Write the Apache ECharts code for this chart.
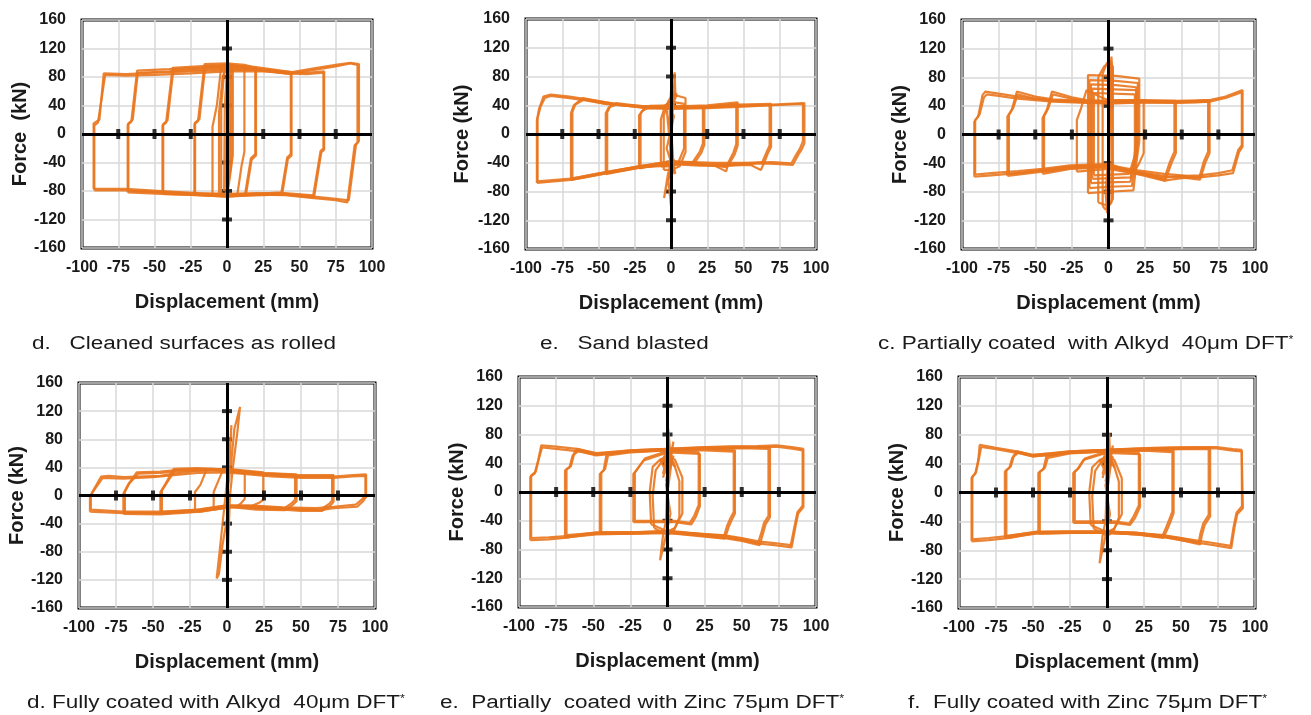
<!DOCTYPE html>
<html lang="en">
<head>
<meta charset="UTF-8">
<script src="https://cdn.jsdelivr.net/npm/echarts@6/dist/echarts.min.js"></script>
<title>Hysteresis loops</title>
<style>
  html, body { margin: 0; padding: 0; background: #fff; }
  #main { width: 1311px; height: 715px; }
</style>
</head>
<body>
<div id="main"></div>
<script>
// small crosses drawn on the centre axes
var crossX = [-75, -50, -25, 25, 50, 75];
var crossY = [-120, -80, -40, 40, 80, 120];

var captions = [
    'd.   Cleaned surfaces as rolled',
    'e.   Sand blasted',
    'c. Partially coated  with Alkyd  40\u03bcm DFT{s|*}',
    'd. Fully coated with Alkyd  40\u03bcm DFT{s|*}',
    'e.  Partially  coated with Zinc 75\u03bcm DFT{s|*}',
    'f.  Fully coated with Zinc 75\u03bcm DFT{s|*}'
];
var yNames = ['Force  (kN)', 'Force (kN)', 'Force (kN)', 'Force (kN)', 'Force (kN)', 'Force (kN)'];

// displacement (mm), force (kN) -- one array per loop
var cleanedLoops = [
    [[-91.5,-79],[-91.5,12],[-89,16],[-84,83],[-70,82],[-50,83],[-25,85],[0,88],[25,88],[45,85],[60,90],[75,95],[85,99],[90,97],[90,-12],[88,-16],[83,-96],[75,-93],[60,-90],[40,-86],[20,-85],[0,-86],[-20,-85],[-45,-82],[-70,-79],[-91.5,-79]],
    [[-92,-77],[-92,15],[-88,20],[-85,85],[-70,84],[-50,86],[-25,88],[0,90],[25,90],[45,87],[60,92],[75,97],[85,100],[91,98],[91,-10],[89,-15],[84,-93],[75,-91],[60,-88],[40,-84],[20,-83],[0,-84],[-20,-83],[-45,-80],[-70,-77],[-92,-77]],
    [[-68.5,-82],[-68.5,13],[-66,17],[-62,89],[-40,91],[-20,93],[0,95],[20,92],[40,87],[55,86],[67,88],[67,-22],[65,-26],[60,-89],[40,-85],[20,-86],[0,-88],[-20,-86],[-45,-84],[-68.5,-82]],
    [[-68,-80],[-68,15],[-65,20],[-61.5,86],[-40,88],[-20,90],[0,92],[20,90],[40,85],[55,84],[66.5,86],[66.5,-20],[64.5,-24],[59.5,-86],[40,-83],[20,-84],[0,-86],[-20,-84],[-45,-82],[-68,-80]],
    [[-44.5,-84],[-44.5,12],[-42,16],[-37.5,93],[-20,95],[0,97],[20,94],[44.5,87],[44.5,-30],[42,-35],[38,-85],[20,-86],[0,-87],[-20,-86],[-44.5,-84]],
    [[-44,-82],[-44,14],[-41,19],[-37,90],[-20,92],[0,94],[20,91],[44,84],[44,-28],[41.5,-33],[37.5,-82],[20,-84],[0,-85],[-20,-84],[-44,-82]],
    [[-22.5,-85],[-22.5,14],[-20,18],[-15.5,98],[0,99],[12,97],[20,93],[20,-30],[17,-36],[13,-86],[0,-88],[-22.5,-85]],
    [[-22,-83],[-22,16],[-19,21],[-15,95],[0,96],[12,94],[19.5,90],[19.5,-28],[16.5,-34],[12.5,-84],[0,-86],[-22,-83]],
    [[-10,-85],[-10,10],[-7,40],[-4,95],[0,96],[12,95],[12,-25],[10,-45],[7,-87],[-10,-85]],
    [[-5.5,-86],[-5.5,30],[-3,80],[0,97],[4,96],[4,-30],[2,-60],[0,-88],[-5.5,-86]],
    [[-4,-84],[-4,40],[-2,85],[1,98],[3,97],[3,-40],[1,-70],[-1,-86],[-4,-84]],
    [[0,0],[-1.5,-75],[-2,-80],[-1.5,40],[0,90],[2,95],[2,-40],[0,-85]]
];

var sandLoops = [
    [[-92.5,-68],[-92.5,19],[-91,35],[-88,52],[-83,55],[-70,52],[-60,49],[-45,44],[-37,41],[-16,38],[0,37],[25,37],[50,39],[70,41],[92,43],[92,-13],[90,-22],[88,-28],[84,-43],[75,-42],[64,-41],[50,-42],[39,-44],[20,-43],[0,-40],[-22,-47],[-45,-55],[-69,-64],[-92.5,-68]],
    [[-92,-66],[-92,22],[-90,38],[-87,50],[-83,53],[-70,50],[-60,47],[-45,42],[-30,39],[-16,36],[0,35],[25,36],[50,38],[70,40],[91,42],[91,-10],[89,-20],[86,-30],[83,-41],[70,-39],[50,-40],[30,-40],[0,-38],[-22,-45],[-45,-53],[-69,-62],[-92,-66]],
    [[-69,-64],[-69,29],[-67,40],[-61,50],[-45,44],[-30,40],[-16,38],[0,37],[25,38],[46,41],[69,42],[69,-18],[67,-26],[64,-41],[62,-50],[55,-43],[38,-44],[20,-43],[0,-40],[-22,-47],[-45,-55],[-69,-64]],
    [[-68,-62],[-68,31],[-66,41],[-60,48],[-45,42],[-30,39],[-16,36],[0,36],[25,37],[46,40],[68,40],[68,-16],[66,-25],[63,-39],[55,-41],[38,-42],[20,-41],[0,-38],[-22,-45],[-45,-53],[-68,-62]],
    [[-45,-56],[-45,29],[-43,37],[-38,43],[-25,40],[-16,38],[0,38],[25,40],[46,44],[46,-16],[44,-28],[39,-45],[38,-52],[30,-44],[20,-44],[0,-42],[-22,-47],[-45,-56]],
    [[-44,-54],[-44,30],[-42,38],[-37,41],[-25,39],[0,36],[25,38],[45,42],[45,-14],[43,-26],[38,-46],[20,-42],[0,-40],[-22,-45],[-44,-54]],
    [[-22,-48],[-22,26],[-20,32],[-16,36],[0,37],[23,38],[23,-15],[21,-26],[16,-41],[0,-40],[-22,-48]],
    [[-21,-46],[-21,28],[-19,34],[-15,39],[0,40],[22,36],[22,-13],[20,-24],[15,-39],[0,-44],[-21,-46]],
    [[-7,-45],[-7,20],[-4,40],[0,45],[9,42],[9,-20],[5,-40],[0,-45],[-7,-45]],
    [[-5,-50],[-5,25],[-2,45],[1,55],[10,50],[10,-25],[6,-45],[0,-50],[-5,-50]],
    [[0,0],[1,50],[2,60],[2.5,86],[3,55],[1,30],[0,-40],[-2,-55],[-4.8,-89],[-2,-60],[0,-100],[1,-40],[-1,20],[0,60],[4,55],[1,40],[-1,-60],[2,-50],[0,10]],
    [[-2,10],[1,45],[-1,30],[3,58],[-2,40],[2,25],[-3,-20],[1,-45],[-2,-65],[2,-35],[-1,-50],[3,-55],[0,-30],[-3,35],[2,50]]
];

var partAlkydLoops = [
    [[-91.6,-59],[-91.6,18],[-89,25],[-86,55],[-84,60],[-75,57],[-62,53],[-50,50],[-38,48],[-15,46],[0,45],[24,47],[46,46],[60,47],[69,48],[80,53],[91.5,62],[91.5,-17],[89,-25],[85,-54],[75,-57],[62,-60],[50,-61],[39,-64],[25,-57],[17,-54],[0,-43],[-26,-45],[-45,-50],[-62,-54],[-80,-57],[-91.6,-59]],
    [[-91,-56],[-91,20],[-88,28],[-85,52],[-83,56],[-75,54],[-62,50],[-50,48],[-38,46],[-15,44],[0,43],[24,45],[46,44],[60,45],[69,46],[80,51],[91,59],[91,-15],[88.5,-22],[84.5,-50],[75,-54],[62,-57],[50,-58],[39,-60],[25,-55],[17,-52],[0,-41],[-26,-43],[-45,-48],[-62,-51],[-80,-54],[-91,-56]],
    [[-69,-58],[-69,25],[-66,35],[-62.5,60],[-50,53],[-38,49],[-15,47],[0,46],[24,47],[46,47],[69,48],[69,-26],[66,-40],[62.5,-63],[50,-60],[38,-58],[20,-52],[0,-45],[-26,-47],[-45,-52],[-69,-58]],
    [[-68,-55],[-68,27],[-65,37],[-62,56],[-50,50],[-38,47],[-15,45],[0,44],[24,45],[46,45],[68,46],[68,-24],[65,-38],[62,-60],[50,-57],[38,-55],[20,-50],[0,-43],[-26,-45],[-45,-50],[-68,-55]],
    [[-45,-55],[-45,23],[-42,35],[-38.6,60],[-25,52],[-15,48],[0,47],[24,48],[46,47],[46,-26],[43,-40],[38.6,-65],[25,-58],[0,-46],[-26,-48],[-45,-55]],
    [[-44,-52],[-44,25],[-41,37],[-38,56],[-25,50],[-15,46],[0,45],[24,46],[45,45],[45,-24],[42,-38],[38,-62],[25,-55],[0,-44],[-26,-46],[-44,-52]],
    [[-21.6,-52],[-21.6,20],[-19,35],[-15,62],[-5,52],[0,48],[24,48],[24,-26],[21,-40],[17,-54],[0,-48],[-21.6,-52]],
    [[-14,-82],[-14,83],[5,82],[21,78],[21,-10],[19,-40],[17,-78],[0,-80],[-14,-82]],
    [[-13,-75],[-13,76],[5,75],[20,72],[20,-10],[18,-40],[16,-72],[0,-73],[-13,-75]],
    [[-12,-68],[-12,70],[5,69],[19,66],[19,-10],[17,-40],[15,-66],[0,-67],[-12,-68]],
    [[-11,-62],[-11,64],[19,62],[19,-30],[15,-60],[-11,-62]],
    [[-10,-57],[-10,58],[18,56],[18,-30],[14,-55],[-10,-57]],
    [[-7,-95],[-7,80],[-3,95],[0,100],[3,95],[3,-90],[0,-100],[-7,-95]],
    [[-4,-100],[-4,85],[-1,100],[1,104],[2,98],[2,-95],[-2,-105],[-4,-100]],
    [[0,0],[1,60],[2,109],[3,80],[1,20],[0,-60],[-1,-110],[-2,-80],[0,-30]]
];

var fullAlkydLoops = [
    [[-92.6,-23],[-92.6,-2],[-91,5],[-85,27],[-80,28],[-70,26],[-60,27],[-45,28],[-36,31],[-20,35],[-5,36],[10,33],[30,29],[50,27],[72,27],[85,29],[94,30],[94,-2],[92,-8],[88,-16],[72,-18],[63,-21],[50,-19],[38,-19],[15,-16],[4,-16],[-18,-23],[-45,-25],[-70,-25],[-92.6,-23]],
    [[-92,-20],[-92,0],[-90,7],[-84,25],[-70,24],[-50,26],[-36,29],[-20,32],[0,33],[30,27],[50,25],[72,25],[85,27],[93.5,28],[93.5,0],[91,-6],[87,-13],[72,-16],[60,-18],[38,-17],[15,-14],[0,-14],[-18,-20],[-45,-23],[-70,-23],[-92,-20]],
    [[-70,-26],[-70,3],[-67,15],[-61,33],[-45,34],[-30,37],[-10,38],[0,36],[25,32],[47,29],[72,29],[72,-9],[70,-14],[64,-22],[50,-22],[38,-20],[15,-17],[0,-17],[-18,-23],[-45,-27],[-70,-26]],
    [[-69,-24],[-69,5],[-66,17],[-60,31],[-45,32],[-30,35],[-10,36],[0,34],[25,30],[47,27],[71,27],[71,-7],[69,-12],[63,-20],[50,-20],[38,-18],[15,-15],[0,-15],[-18,-21],[-45,-25],[-69,-24]],
    [[-45,-26],[-45,5],[-42,15],[-36,38],[-20,39],[0,37],[25,32],[47,30],[47,-8],[44,-14],[39,-21],[20,-20],[0,-16],[-20,-22],[-45,-26]],
    [[-44,-24],[-44,7],[-41,17],[-35,36],[-20,37],[0,35],[25,30],[46,28],[46,-6],[43,-12],[38,-19],[20,-18],[0,-14],[-20,-20],[-44,-24]],
    [[-21.6,-22],[-21.6,5],[-18,15],[-14,36],[0,38],[24.5,33],[24.5,-6],[22,-10],[15.5,-16],[0,-15],[-21.6,-22]],
    [[-9,-20],[-9,5],[-6,20],[-3,35],[0,36],[12,34],[12,-5],[9,-12],[6,-16],[0,-17],[-9,-20]],
    [[0,0],[3,50],[5,95],[8.8,126],[7,90],[4,40],[1,-20],[-3,-70],[-5.5,-112],[-7,-118],[-5,-80],[-2,-20],[1,40],[3,100],[2,60],[0,-10],[0,-128],[1,-60],[2,0]]
];

var partZincLoops = [
    [[-92.4,-67],[-92.4,21],[-89.4,26],[-87,45],[-85,65],[-75,63],[-61,60],[-48,53],[-38,55],[-25,58],[0,60],[20,62],[42,63.5],[60,64],[73.5,65],[85,62],[91.5,60],[91.5,-21],[88,-30],[86,-50],[83.6,-77],[72,-74],[62,-72],[50,-67],[37.5,-63],[20,-60],[1.6,-56],[-25,-58],[-48,-58],[-66,-63],[-80,-66],[-92.4,-67]],
    [[-91.8,-64],[-91.8,23],[-88.8,28],[-86.5,47],[-84.5,62],[-75,60],[-61,57],[-48,51],[-38,53],[-25,56],[0,58],[20,60],[42,61],[60,62],[73.5,63],[85,60],[91,58],[91,-19],[87.5,-28],[85.5,-48],[83,-74],[72,-71],[62,-69],[50,-64],[37.5,-60],[20,-58],[1.6,-54],[-25,-56],[-48,-56],[-66,-61],[-80,-63],[-91.8,-64]],
    [[-69,-63],[-69,30],[-66,34],[-64,50],[-61,60],[-48,54],[-25,58],[0,60],[30,62],[50,63],[69,62],[69,-35],[66,-45],[64,-60],[62,-74],[50,-68],[37.5,-64],[20,-60],[0,-57],[-25,-58],[-48,-59],[-69,-63]],
    [[-68,-60],[-68,32],[-65,36],[-63,52],[-60,57],[-48,52],[-25,56],[0,58],[30,60],[50,61],[68,60],[68,-33],[65,-43],[63,-58],[61,-71],[50,-65],[37.5,-61],[20,-58],[0,-55],[-25,-56],[-48,-57],[-68,-60]],
    [[-45.6,-58],[-45.6,25],[-43,30],[-41,53],[-25,57],[0,60],[25,60],[45.4,58],[45.4,-30],[43,-40],[41,-50],[38.6,-65],[20,-61],[0,-57],[-25,-58],[-45.6,-58]],
    [[-44.6,-56],[-44.6,27],[-42,32],[-40,51],[-25,55],[0,58],[25,58],[44.6,56],[44.6,-28],[42,-38],[40,-48],[38,-62],[20,-58],[0,-55],[-25,-56],[-44.6,-56]],
    [[-23,-42],[-23,25],[-21,30],[-16,44],[0,55],[21.8,53],[21.8,-20],[19,-35],[16,-45],[5,-42],[-23,-42]],
    [[-22,-40],[-22,27],[-20,33],[-15,47],[0,57],[21,55],[21,-18],[18,-33],[15,-43],[5,-40],[-22,-40]],
    [[-11,-45],[-12,0],[-10,35],[-5,45],[0,50],[5,45],[10,20],[10,-30],[5,-50],[0,-55],[-11,-45]],
    [[-9,-50],[-10,-5],[-8,30],[-4,42],[0,48],[4,42],[8,15],[8,-35],[4,-55],[0,-60],[-9,-50]],
    [[0,0],[1,60],[0.5,88],[2,50],[4,70],[1,30],[-2,50],[0,20],[-1,-40],[-3,-60],[-5,-95],[-2,-70],[0,-50],[2,-30],[-1,10],[3,45],[0,0]],
    [[-3,20],[2,55],[-2,30],[3,60],[-1,15],[4,50],[-4,40],[1,65],[-3,25],[2,45],[5,35],[-2,55],[0,30],[3,40],[-5,45],[1,20]]
];

var fullZincLoops = [
    [[-91.5,-67.7],[-91.5,20],[-89,26],[-87,45],[-86,66],[-75,62],[-61,57],[-50,52],[-38,54],[-25,57],[0,59],[20,61],[42.6,62.7],[60,63],[74,63],[85,60],[91,59],[91.8,-21.7],[88,-30],[86,-50],[84,-77],[72,-73],[62,-70],[50,-66],[38,-61],[20,-58],[2,-56],[-25,-56],[-47.6,-56],[-65.6,-63],[-80,-66],[-91.5,-67.7]],
    [[-91,-65],[-91,22],[-88.5,28],[-86.5,47],[-85,63],[-75,60],[-61,55],[-50,50],[-38,52],[-25,55],[0,57],[20,59],[42.6,60],[60,61],[74,61],[85,58],[91,57],[91.2,-19],[87.5,-28],[85.5,-48],[83.5,-74],[72,-70],[62,-67],[50,-63],[38,-59],[20,-56],[2,-54],[-25,-54],[-47.6,-54],[-65.6,-60],[-80,-63],[-91,-65]],
    [[-69,-63],[-69,29],[-66,34],[-64,48],[-61,57],[-50,52],[-25,57],[0,59],[30,61],[50,62],[69.7,62],[69.7,-33],[66,-45],[64,-60],[63,-72],[50,-66],[38,-62],[20,-58],[0,-56],[-25,-56],[-48,-57],[-69,-63]],
    [[-68,-60],[-68,31],[-65,36],[-63,50],[-60,55],[-50,50],[-25,55],[0,57],[30,59],[50,60],[68.7,60],[68.7,-31],[65,-43],[63,-58],[62,-69],[50,-63],[38,-60],[20,-56],[0,-54],[-25,-54],[-48,-55],[-68,-60]],
    [[-46.4,-57],[-46.4,27],[-43,32],[-41,50],[-25,56],[0,59],[25,60],[45,58],[45,-28.5],[43,-40],[41,-50],[38,-63],[20,-58],[0,-56],[-25,-56],[-46.4,-57]],
    [[-45.4,-55],[-45.4,29],[-42,34],[-40,48],[-25,54],[0,57],[25,58],[44.2,56],[44.2,-26],[42,-38],[40,-48],[37.5,-60],[20,-56],[0,-54],[-25,-54],[-45.4,-55]],
    [[-22.8,-42],[-22.8,27],[-20,32],[-16,45],[0,55],[22.3,53],[22.3,-20],[19,-35],[15.6,-45],[5,-42],[-22.8,-42]],
    [[-21.8,-40],[-21.8,29],[-19,34],[-15,47],[0,57],[21.5,55],[21.5,-18],[18,-33],[15,-43],[5,-40],[-21.8,-40]],
    [[-11,-45],[-12,0],[-10,35],[-5,45],[0,50],[5,45],[10,20],[10,-30],[5,-50],[0,-55],[-11,-45]],
    [[-9,-50],[-10,-5],[-8,30],[-4,42],[0,48],[4,42],[8,15],[8,-35],[4,-55],[0,-60],[-9,-50]],
    [[0,0],[1,60],[1.5,82],[2,50],[4,65],[1,30],[-2,50],[0,20],[-1,-40],[-3,-60],[-5,-98],[-2,-70],[0,-50],[2,-30],[-1,10],[3,45],[0,0]],
    [[-3,20],[2,55],[-2,30],[3,60],[-1,15],[4,50],[-4,40],[1,62],[-3,25],[2,45],[5,35],[-2,55],[0,30],[3,40],[-5,45],[1,20]]
];

var allLoops = [cleanedLoops, sandLoops, partAlkydLoops, fullAlkydLoops, partZincLoops, fullZincLoops];

// plot boxes (px) and caption anchors
var boxes = [
    {left: 82, top: 20, width: 290, height: 228, yGap: 48, capX: 32, capY: 344},
    {left: 526, top: 19, width: 290, height: 230, yGap: 54, capX: 540, capY: 344},
    {left: 962, top: 20, width: 293, height: 229, yGap: 50, capX: 878, capY: 344},
    {left: 79, top: 383, width: 296, height: 225, yGap: 49, capX: 27, capY: 703},
    {left: 519, top: 377, width: 297, height: 230, yGap: 48, capX: 440, capY: 703},
    {left: 959, top: 377, width: 296, height: 231, yGap: 48, capX: 908, capY: 703}
];

var ORANGE = '#E9761E';
var INK = '#1a1a1a';
var FONT = 'Liberation Sans, Arial, sans-serif';

var grid = [], xAxis = [], yAxis = [], series = [], graphic = [];

boxes.forEach(function (b, i) {
    grid.push({
        left: b.left, top: b.top, width: b.width, height: b.height,
        show: true, borderColor: '#000', borderWidth: 3, backgroundColor: '#fff',
        outerBoundsMode: 'none'
    });
    xAxis.push({
        gridIndex: i, type: 'value', min: -100, max: 100, interval: 25, position: 'bottom',
        axisLine: {show: false, onZero: false}, axisTick: {show: false},
        axisLabel: {margin: 12, fontSize: 16, fontWeight: 'bold', color: INK, fontFamily: FONT},
        splitLine: {show: true, lineStyle: {color: '#d9d9d9', width: 1.5}},
        name: 'Displacement (mm)', nameLocation: 'middle', nameGap: 44,
        nameTextStyle: {fontSize: 20, fontWeight: 'bold', color: INK, fontFamily: FONT}
    });
    yAxis.push({
        gridIndex: i, type: 'value', min: -160, max: 160, interval: 40, position: 'left',
        axisLine: {show: false, onZero: false}, axisTick: {show: false},
        axisLabel: {margin: 16, fontSize: 16, fontWeight: 'bold', color: INK, fontFamily: FONT},
        splitLine: {show: true, lineStyle: {color: '#d9d9d9', width: 1.5}},
        name: yNames[i], nameLocation: 'middle', nameGap: b.yGap, nameRotate: 90,
        nameTextStyle: {fontSize: 20, fontWeight: 'bold', color: INK, fontFamily: FONT}
    });

    // vertical centre axis sits under the curves
    series.push({
        type: 'scatter', xAxisIndex: i, yAxisIndex: i, z: 1, silent: true,
        symbol: 'rect', symbolSize: [10, 4], itemStyle: {color: '#000'},
        data: crossY.map(function (v) { return [0, v]; }),
        markLine: {
            silent: true, symbol: ['none', 'none'], label: {show: false},
            lineStyle: {color: '#000', width: 3, type: 'solid'},
            data: [{xAxis: 0}]
        }
    });
    allLoops[i].forEach(function (loop) {
        series.push({
            type: 'line', xAxisIndex: i, yAxisIndex: i, z: 2, silent: true,
            data: loop, showSymbol: false, symbol: 'none',
            lineStyle: {color: ORANGE, width: 2.2, opacity: 0.9}
        });
    });
    // horizontal centre axis drawn over the curves
    series.push({
        type: 'scatter', xAxisIndex: i, yAxisIndex: i, z: 3, silent: true,
        symbol: 'rect', symbolSize: [4, 10], itemStyle: {color: '#000'},
        data: crossX.map(function (v) { return [v, 0]; }),
        markLine: {
            silent: true, symbol: ['none', 'none'], label: {show: false},
            lineStyle: {color: '#000', width: 3, type: 'solid'},
            data: [{yAxis: 0}]
        }
    });

    graphic.push({
        type: 'text', x: b.capX, y: b.capY, scaleX: 1.25,
        style: {
            text: captions[i], fontSize: 18, fontFamily: FONT, fill: INK,
            verticalAlign: 'middle',
            rich: {s: {fontSize: 10, fill: INK, verticalAlign: 'top', fontFamily: FONT}}
        }
    });
});

var myChart = echarts.init(document.getElementById('main'));
myChart.setOption({
    animation: false,
    backgroundColor: '#fff',
    grid: grid,
    xAxis: xAxis,
    yAxis: yAxis,
    series: series,
    graphic: graphic
});
</script>
</body>
</html>
